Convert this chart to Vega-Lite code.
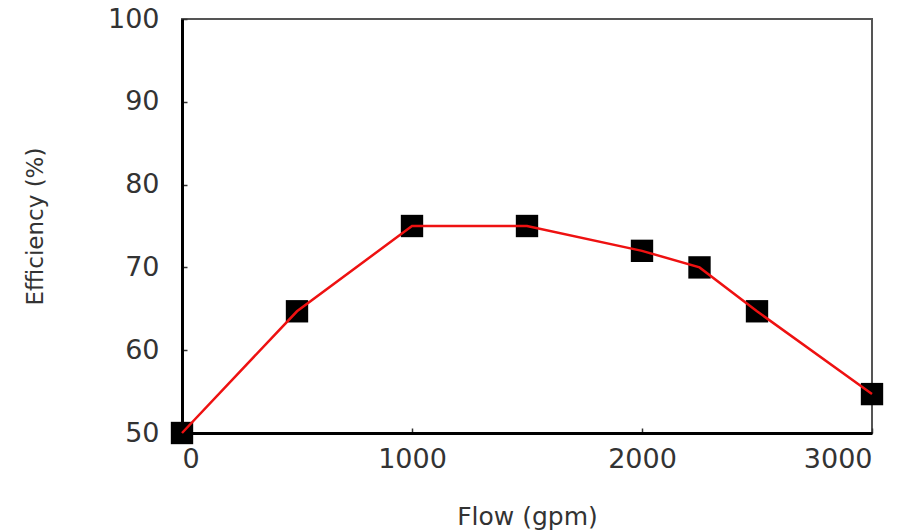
{
  "$schema": "https://vega.github.io/schema/vega-lite/v6.json",
  "autosize": "none",
  "width": 690,
  "height": 414,
  "padding": {"left": 182, "top": 19, "right": 46, "bottom": 99},
  "background": "white",
  "config": {
    "view": {"stroke": "#555", "strokeWidth": 2},
    "axis": {
      "labelFont": "DejaVu Sans",
      "titleFont": "DejaVu Sans",
      "labelColor": "#333",
      "titleColor": "#333",
      "titleFontWeight": "normal",
      "domainColor": "black",
      "domainWidth": 3,
      "tickColor": "#333",
      "tickWidth": 1.5,
      "tickSize": -5,
      "grid": false
    }
  },
  "data": {
    "values": [
      {"flow": 0, "eff": 50},
      {"flow": 500, "eff": 64.7},
      {"flow": 1000, "eff": 75},
      {"flow": 1500, "eff": 75},
      {"flow": 2000, "eff": 72},
      {"flow": 2250, "eff": 70},
      {"flow": 2500, "eff": 64.7},
      {"flow": 3000, "eff": 54.7}
    ]
  },
  "encoding": {
    "x": {
      "field": "flow", "type": "quantitative",
      "scale": {"domain": [0, 3000], "nice": false, "zero": false},
      "axis": {"values": [0, 1000, 2000, 3000], "format": "d", "title": "Flow (gpm)", "labelFontSize": 27, "labelPadding": 18, "titleFontSize": 25, "titlePadding": 32}
    },
    "y": {
      "field": "eff", "type": "quantitative",
      "scale": {"domain": [50, 100], "nice": false, "zero": false},
      "axis": {"values": [50, 60, 70, 80, 90, 100], "format": "d", "title": "Efficiency (%)", "labelFontSize": 27, "labelPadding": 28, "titleFontSize": 23, "titlePadding": 60}
    }
  },
  "layer": [
    {"mark": {"type": "point", "shape": "square", "filled": true, "color": "black", "size": 500, "opacity": 1}},
    {"mark": {"type": "line", "color": "#ee1111", "strokeWidth": 2.5}}
  ]
}
